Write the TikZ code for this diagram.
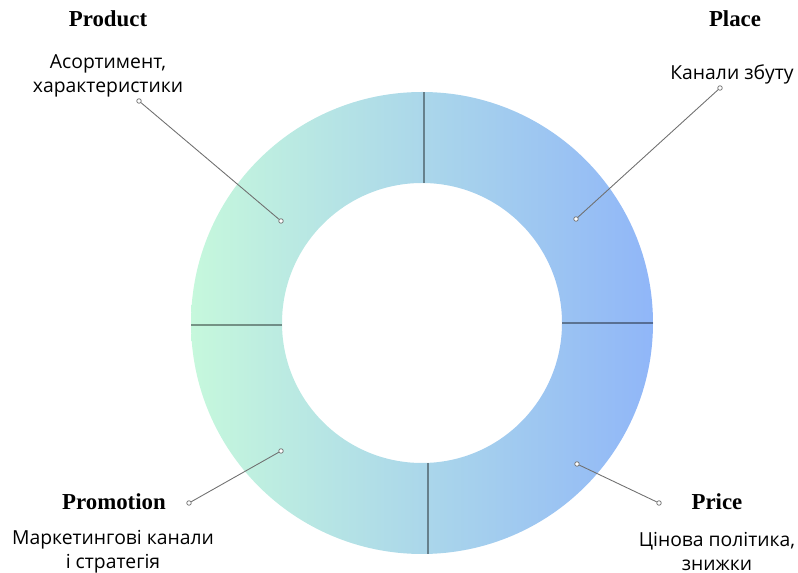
\documentclass[tikz,border=0pt]{standalone}
\usepackage{fontspec}
\setmainfont{Liberation Serif}
\newfontfamily\descfont{Open Sans}
\definecolor{ringleft}{HTML}{C6F8DC}
\definecolor{ringright}{HTML}{90B6F8}
\definecolor{leadcol}{HTML}{707070}
\tikzset{
  ptitle/.style={font=\fontsize{13}{15}\selectfont\bfseries},
  pdesc/.style={font=\descfont\fontsize{11}{13.6}\selectfont, align=center},
  pdot/.style={draw=leadcol, fill=white, circle, inner sep=0pt, minimum size=2.6pt, line width=0.4pt},
  divider/.style={draw=black, opacity=0.4, line width=1pt},
  leader/.style={draw=leadcol, line width=0.5pt}
}
\begin{document}
\begin{tikzpicture}
    \useasboundingbox (0,0) rectangle (15.96,11.46);
    \coordinate (c) at (8.44,5.00);
    \shade[left color=ringleft, right color=ringright, even odd rule]
        (c) circle (4.62) (c) circle (2.80);
    \draw[divider] (8.48,7.80) -- (8.48,9.62);
    \draw[divider] (8.56,2.20) -- (8.56,0.38);
    \draw[divider] (3.82,4.96) -- (5.64,4.96);
    \draw[divider] (11.24,5.00) -- (13.06,5.00);

    \node[ptitle] (product) at (2.16,11.08) {Product};
    \node[pdesc] (productd) at (2.16,9.95) {Асортимент,\\характеристики};
    \node[ptitle] (place) at (14.70,11.08) {Place};
    \node[pdesc] (placed) at (14.64,9.98) {Канали збуту};
    \node[ptitle] (promotion) at (2.28,1.42) {Promotion};
    \node[pdesc] (promotiond) at (2.26,0.43) {Маркетингові канали\\і стратегія};
    \node[ptitle] (price) at (14.34,1.42) {Price};
    \node[pdesc] (priced) at (14.34,0.43) {Цінова політика,\\знижки};

    \node[pdot] (productout) at (2.78,9.44) {};
    \node[pdot] (productin) at (5.62,7.04) {};
    \node[pdot] (placeout) at (14.40,9.70) {};
    \node[pdot] (placein) at (11.52,7.08) {};
    \node[pdot] (promotionout) at (3.78,1.40) {};
    \node[pdot] (promotionin) at (5.62,2.44) {};
    \node[pdot] (priceout) at (13.18,1.40) {};
    \node[pdot] (pricein) at (11.54,2.18) {};
    \draw[leader] (productout) -- (productin);
    \draw[leader] (placeout) -- (placein);
    \draw[leader] (promotionout) -- (promotionin);
    \draw[leader] (priceout) -- (pricein);
\end{tikzpicture}
\end{document}
